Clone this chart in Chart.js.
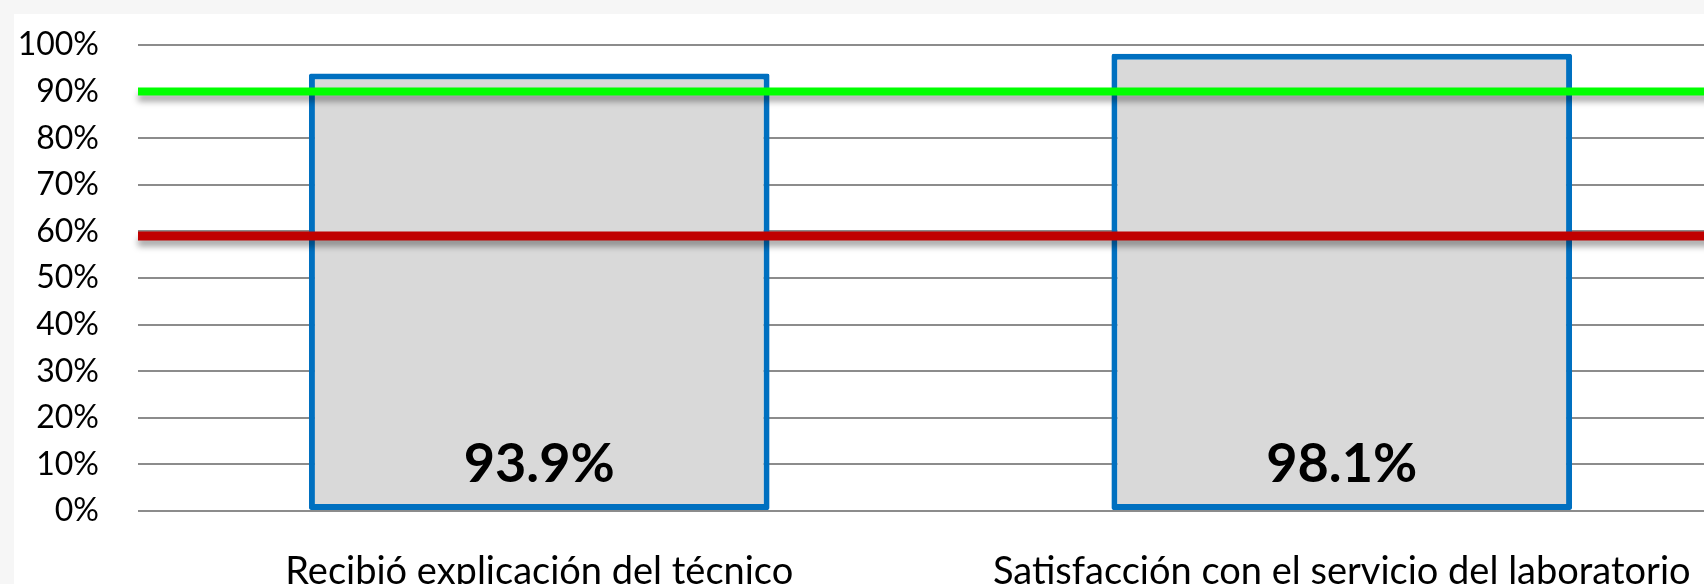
<!DOCTYPE html>
<html>
<head>
<meta charset="utf-8">
<script src="https://cdn.jsdelivr.net/npm/chart.js@4"></script>
<style>
  html, body { margin: 0; padding: 0; width: 1704px; height: 584px; overflow: hidden; background: #f6f6f6; }
  #caja { position: absolute; left: 14px; top: 14px; width: 1740px; height: 570px; background: #fff; }
</style>
</head>
<body>
<div id="caja"><canvas id="grafico"></canvas></div>
<script>
// datos
const categorias = ["Recibió explicación del técnico", "Satisfacción con el servicio del laboratorio"];
const porcentajes = [93.9, 98.1];
const marcasEje = [0, 10, 20, 30, 40, 50, 60, 70, 80, 90, 100];
const metas = [90, 59];
const coloresMetas = ["#00ff00", "#c00000"];

// lineas de meta y etiquetas de las barras
const extras = {
  id: 'extras',
  afterDatasetsDraw(chart) {
    const ctx = chart.ctx;
    const area = chart.chartArea;
    const y = chart.scales.y;
    const x = chart.scales.x;

    metas.forEach(function (m, i) {
      const py = y.getPixelForValue(m);
      ctx.save();
      ctx.shadowColor = 'rgba(0,0,0,0.35)';
      ctx.shadowBlur = 6;
      ctx.shadowOffsetY = 6;
      ctx.strokeStyle = coloresMetas[i];
      ctx.lineWidth = i == 0 ? 8 : 9;
      ctx.beginPath();
      ctx.moveTo(area.left, py);
      ctx.lineTo(area.right, py);
      ctx.stroke();
      ctx.restore();
    });

    ctx.save();
    ctx.font = 'bold 54px Lato';
    ctx.fillStyle = '#000';
    ctx.textAlign = 'center';
    ctx.textBaseline = 'middle';
    porcentajes.forEach(function (v, i) {
      ctx.fillText(v.toFixed(1) + '%', x.getPixelForValue(i), y.getPixelForValue(0) - 46);
    });
    ctx.restore();
  }
};

new Chart(document.getElementById("grafico"), {
  type: 'bar',
  data: {
    labels: categorias,
    datasets: [{
      data: porcentajes,
      backgroundColor: "#d9d9d9",
      borderColor: "#0070c0",
      borderWidth: 6,
      borderSkipped: false,
      borderRadius: 2,
      categoryPercentage: 1,
      barPercentage: 0.574
    }]
  },
  options: {
    responsive: true,
    maintainAspectRatio: false,
    animation: false,
    layout: { padding: { top: 31, right: 11, left: 0, bottom: 0 } },
    plugins: {
      legend: { display: false },
      tooltip: { enabled: false }
    },
    scales: {
      x: {
        grid: { display: false, drawTicks: false },
        border: { display: false },
        ticks: { color: '#000', font: { family: 'Lato', size: 38 }, padding: 38, maxRotation: 0 },
        afterFit: function (s) { s.height = 73; }
      },
      y: {
        min: 0,
        max: 100,
        afterBuildTicks: function (s) { s.ticks = marcasEje.map(v => ({ value: v })); },
        grid: { color: '#8c8c8c', lineWidth: 2, drawTicks: false },
        border: { display: false },
        ticks: {
          color: '#000',
          font: { family: 'Lato', size: 32 },
          padding: 39,
          callback: v => v + '%'
        },
        afterFit: function (s) {
          s.width = 124;
          s.paddingTop = 0;
          s.paddingBottom = 0;
        }
      }
    }
  },
  plugins: [extras]
});
</script>
</body>
</html>
